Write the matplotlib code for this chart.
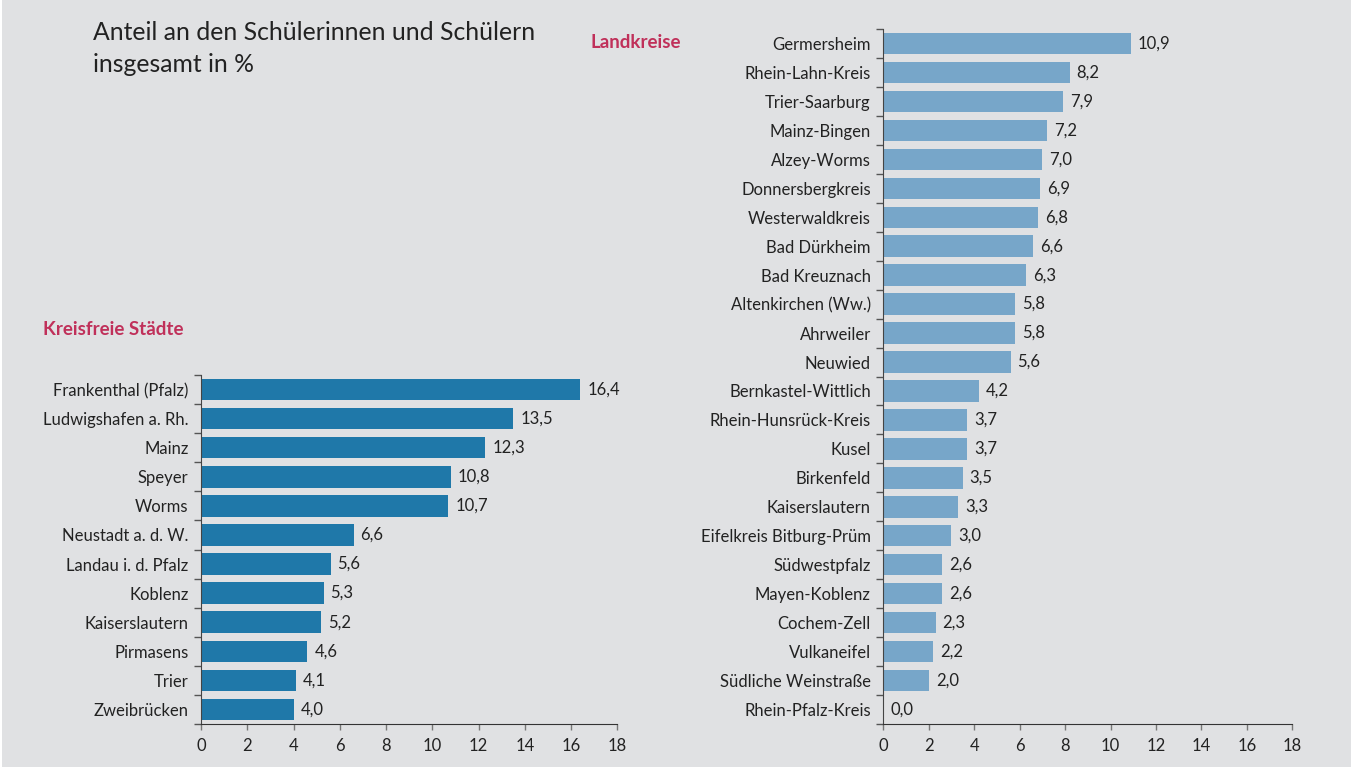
import matplotlib.pyplot as plt
from matplotlib.patches import Rectangle
import numpy as np

plt.rcParams['font.family'] = ['Lato', 'DejaVu Sans']

staedte = ['Frankenthal (Pfalz)', 'Ludwigshafen a. Rh.', 'Mainz', 'Speyer', 'Worms',
           'Neustadt a. d. W.', 'Landau i. d. Pfalz', 'Koblenz', 'Kaiserslautern',
           'Pirmasens', 'Trier', 'Zweibrücken']
staedte_werte = [16.4, 13.5, 12.3, 10.8, 10.7, 6.6, 5.6, 5.3, 5.2, 4.6, 4.1, 4.0]

kreise = ['Germersheim', 'Rhein-Lahn-Kreis', 'Trier-Saarburg', 'Mainz-Bingen', 'Alzey-Worms',
          'Donnersbergkreis', 'Westerwaldkreis', 'Bad Dürkheim', 'Bad Kreuznach',
          'Altenkirchen (Ww.)', 'Ahrweiler', 'Neuwied', 'Bernkastel-Wittlich',
          'Rhein-Hunsrück-Kreis', 'Kusel', 'Birkenfeld', 'Kaiserslautern',
          'Eifelkreis Bitburg-Prüm', 'Südwestpfalz', 'Mayen-Koblenz', 'Cochem-Zell',
          'Vulkaneifel', 'Südliche Weinstraße', 'Rhein-Pfalz-Kreis']
kreise_werte = [10.9, 8.2, 7.9, 7.2, 7.0, 6.9, 6.8, 6.6, 6.3, 5.8, 5.8, 5.6, 4.2,
                3.7, 3.7, 3.5, 3.3, 3.0, 2.6, 2.6, 2.3, 2.2, 2.0, 0.0]

x_ticks = list(range(0, 19, 2))

BG = '#e0e1e3'
TXT = '#222222'
RED = '#c0305a'
FS = 12

fig = plt.figure(figsize=(13.51, 7.75), dpi=100)
fig.patch.set_facecolor('white')
fig.patches.append(Rectangle((2 / 1351, 1 - 767 / 775), 1, 767 / 775, transform=fig.transFigure,
                             facecolor=BG, edgecolor='none', zorder=-10))


def draw_bars(ax, labels, values, color):
    n = len(labels)
    y = np.arange(n)
    ax.barh(y, values, height=0.74, color=color, zorder=2)
    for yi, v in zip(y, values):
        ax.annotate(f'{v:.1f}'.replace('.', ','), (v, yi), xytext=(5, 0), textcoords='offset points',
                    va='center', ha='left', fontsize=FS, color=TXT)
    ax.set_xlim(0, 18)
    ax.set_ylim(n - 0.5, -0.5)
    ax.set_facecolor('none')
    ax.set_xticks(x_ticks)
    ax.set_yticks(y, labels)
    ax.set_yticks(np.arange(n + 1) - 0.5, minor=True)
    ax.tick_params(axis='y', which='major', length=0, pad=9, labelsize=FS, labelcolor=TXT)
    ax.tick_params(axis='y', which='minor', length=5, width=1, color='#555555')
    ax.tick_params(axis='x', length=4, width=1, color='#777777', pad=6, labelsize=FS, labelcolor=TXT)
    for s in ['top', 'right']:
        ax.spines[s].set_visible(False)
    ax.spines['left'].set_color('#444444')
    ax.spines['bottom'].set_color('#333333')


ax1 = fig.add_axes([201 / 1351, 1 - 724 / 775, 416.3 / 1351, 349 / 775])
draw_bars(ax1, staedte, staedte_werte, '#1f78a9')

ax2 = fig.add_axes([883.3 / 1351, 1 - 724 / 775, 409 / 1351, 695 / 775])
draw_bars(ax2, kreise, kreise_werte, '#77a6c9')

fig.text(93 / 1351, 1 - 21 / 775, 'Anteil an den Schülerinnen und Schülern\ninsgesamt in %',
         ha='left', va='top', fontsize=17.8, color=TXT, linespacing=1.5)
fig.text(590 / 1351, 1 - 43 / 775, 'Landkreise', ha='left', va='center',
         fontsize=13.5, fontweight='bold', color=RED)
fig.text(43 / 1351, 1 - 329 / 775, 'Kreisfreie Städte', ha='left', va='center',
         fontsize=13.5, fontweight='bold', color=RED)

fig.savefig('out.png', dpi=100)
